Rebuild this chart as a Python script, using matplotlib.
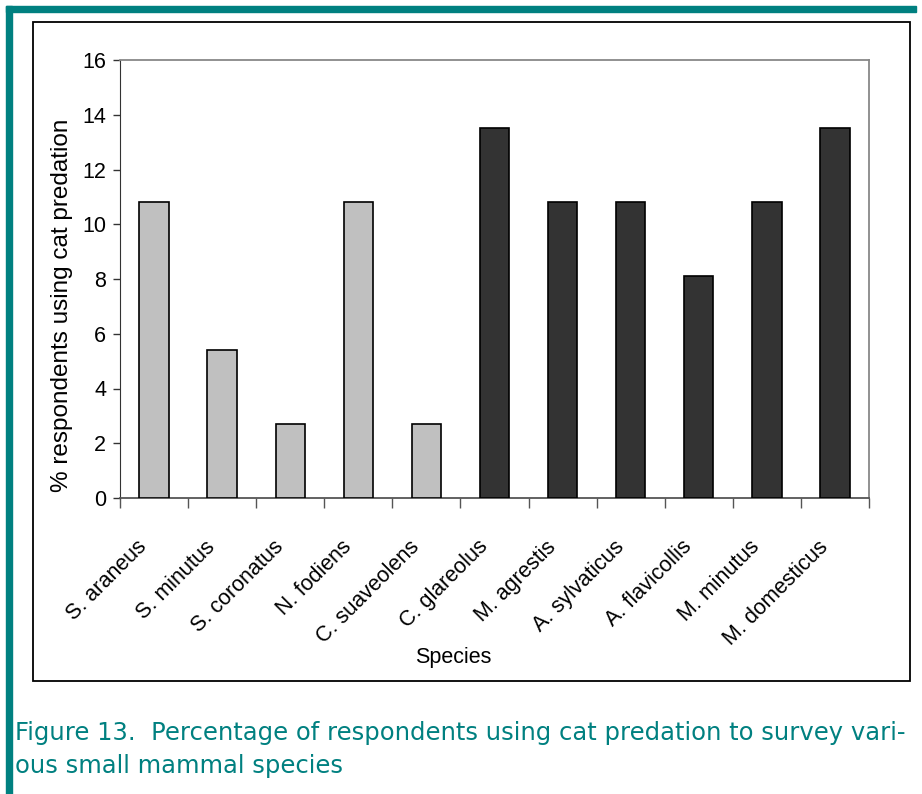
import matplotlib
matplotlib.use("Agg")
import matplotlib.pyplot as plt
from matplotlib.patches import Rectangle
from matplotlib.transforms import ScaledTranslation

# data
species = ["S. araneus", "S. minutus", "S. coronatus", "N. fodiens", "C. suaveolens",
           "C. glareolus", "M. agrestis", "A. sylvaticus", "A. flavicollis", "M. minutus",
           "M. domesticus"]
percent = [10.8, 5.4, 2.7, 10.8, 2.7, 13.5, 10.8, 10.8, 8.1, 10.8, 13.5]
is_rodent = [False] * 5 + [True] * 6
yticks = [0, 2, 4, 6, 8, 10, 12, 14, 16]

TEAL = "#008080"
plt.rcParams["font.family"] = ["Liberation Sans", "DejaVu Sans"]

W, H = 922, 794
fig = plt.figure(figsize=(W / 100, H / 100), dpi=100)

# teal page frame (left and top)
fig.patches.append(Rectangle((6 / W, 0), 6 / W, 1 - 6 / H, transform=fig.transFigure,
                             color=TEAL, zorder=0))
fig.patches.append(Rectangle((6 / W, 1 - 12 / H), 910 / W, 6 / H, transform=fig.transFigure,
                             color=TEAL, zorder=0))
# black chart box
fig.patches.append(Rectangle((33 / W, 1 - 681 / H), 877 / W, 659 / H, transform=fig.transFigure,
                             fill=False, edgecolor="black", linewidth=1.3, zorder=1))

ax = fig.add_axes([120 / W, 1 - 498 / H, 749 / W, 438 / H])
x = list(range(len(species)))
colors = ["#333333" if r else "#c0c0c0" for r in is_rodent]
ax.bar(x, percent, width=0.43, color=colors, edgecolor="black", linewidth=1.2, zorder=3)

ax.set_xlim(-0.5, len(species) - 0.5)
ax.set_ylim(0, 16)
ax.set_yticks(yticks)
ax.tick_params(axis="y", direction="out", length=5, width=1, labelsize=15.5, pad=5,
               color="#333333")
ax.set_xticks([i - 0.5 for i in range(len(species) + 1)], minor=False)
ax.set_xticklabels([])
ax.tick_params(axis="x", which="major", direction="out", length=7, width=1, color="#555555")
ax.set_xticks(x, minor=True)
ax.set_xticklabels(species, minor=True, rotation=45, ha="right", va="center",
                   rotation_mode="anchor", fontsize=15.5)
ax.tick_params(axis="x", which="minor", length=0, pad=33)
shift = ScaledTranslation(-10 / 100, 0, fig.dpi_scale_trans)
for lab in ax.get_xticklabels(minor=True):
    lab.set_transform(lab.get_transform() + shift)

for side in ["top", "right"]:
    ax.spines[side].set_color("#888888")
    ax.spines[side].set_linewidth(1.3)
ax.spines["left"].set_color("#333333")
ax.spines["bottom"].set_color("#555555")
ax.spines["bottom"].set_linewidth(1.3)

fig.text(453 / W, 1 - 657 / H, "Species", ha="center", va="center", fontsize=15.5)
fig.text(62 / W, 1 - 305 / H, "% respondents using cat predation", rotation=90,
         ha="center", va="center", fontsize=17.5)

cap_font = ["DejaVu Sans"]
fig.text(15 / W, 1 - 733 / H,
         "Figure 13.  Percentage of respondents using cat predation to survey vari-",
         ha="left", va="center", fontsize=17.5, color=TEAL, family=cap_font)
fig.text(15 / W, 1 - 766 / H, "ous small mammal species",
         ha="left", va="center", fontsize=17.5, color=TEAL, family=cap_font)

fig.savefig("out.png", dpi=100)
